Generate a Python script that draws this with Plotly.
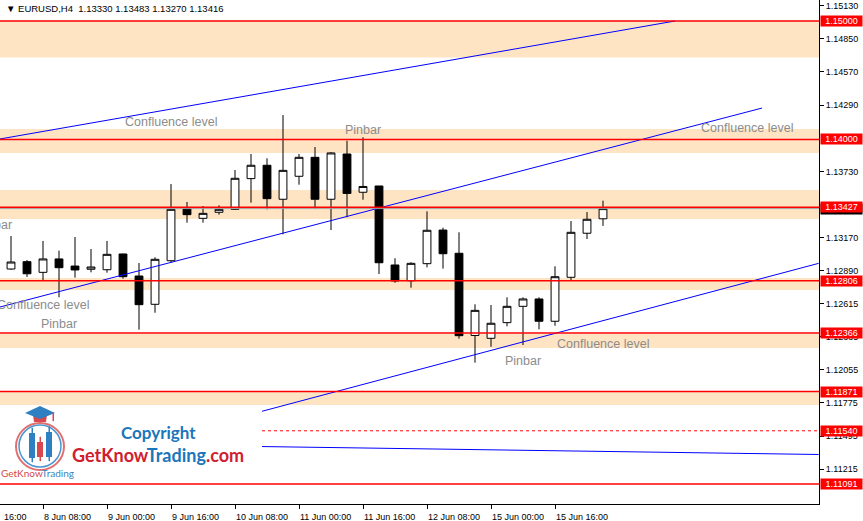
import plotly.graph_objects as go

# EURUSD H4 candles (index 0 = 8 Jun 00:00, 6 bars a day)
bar_idx = list(range(38))
opens = [1.12906, 1.12968, 1.12878, 1.12991, 1.12931, 1.12904, 1.12900, 1.13033,
         1.12847, 1.12608, 1.12976, 1.13415, 1.13334, 1.13385, 1.13410, 1.13669,
         1.13782, 1.13495, 1.13689, 1.13849, 1.13495, 1.13877, 1.13554, 1.13607,
         1.12940, 1.12807, 1.12951, 1.13235, 1.13039, 1.12345, 1.12321, 1.12453,
         1.12591, 1.12653, 1.12465, 1.12836, 1.13208, 1.13330]
highs = [1.13185, 1.12982, 1.13143, 1.13061, 1.13176, 1.13075, 1.13143, 1.13035,
         1.12957, 1.13005, 1.13624, 1.13472, 1.13438, 1.13444, 1.13742, 1.13877,
         1.13841, 1.14206, 1.13877, 1.13936, 1.13894, 1.13989, 1.14018, 1.13607,
         1.12997, 1.12963, 1.13393, 1.13255, 1.13216, 1.12608, 1.12602, 1.12667,
         1.12667, 1.12667, 1.12929, 1.13311, 1.13387, 1.13483]
lows = [1.12898, 1.12839, 1.12807, 1.12667, 1.12833, 1.12878, 1.12875, 1.12824,
        1.12394, 1.12537, 1.12959, 1.13297, 1.13297, 1.13365, 1.13404, 1.13466,
        1.13410, 1.13199, 1.13618, 1.13415, 1.13235, 1.13343, 1.13491, 1.12864,
        1.12790, 1.12748, 1.12920, 1.12909, 1.12318, 1.12115, 1.12250, 1.12422,
        1.12264, 1.12397, 1.12427, 1.12807, 1.13159, 1.13270]
closes = [1.12965, 1.12866, 1.12991, 1.12917, 1.12898, 1.12923, 1.13030, 1.12841,
          1.12605, 1.12988, 1.13410, 1.13365, 1.13376, 1.13410, 1.13672, 1.13782,
          1.13500, 1.13739, 1.13849, 1.13495, 1.13886, 1.13544, 1.13603, 1.12959,
          1.12805, 1.12954, 1.13233, 1.13035, 1.12343, 1.12557, 1.12448, 1.12591,
          1.12653, 1.12465, 1.12841, 1.13216, 1.13326, 1.13416]

tick_pos = [2, 6, 10, 14, 18, 22, 26, 30, 34]
tick_text = ["8 Jun 08:00", "9 Jun 00:00", "9 Jun 16:00", "10 Jun 08:00",
             "11 Jun 00:00", "11 Jun 16:00", "12 Jun 08:00", "15 Jun 00:00",
             "15 Jun 16:00"]
# 1.14010 and 1.13450 sit fully under the red level labels, so left out
price_ticks = [1.15130, 1.14850, 1.14570, 1.14290, 1.13730,
               1.13170, 1.12890, 1.12615, 1.12335, 1.12055, 1.11775, 1.11495,
               1.11215]

levels = [1.15000, 1.14000, 1.13427, 1.12806, 1.12366, 1.11871, 1.11091]
dashed_level = 1.11540
zone_lo = [1.14692, 1.13886, 1.13328, 1.12729, 1.12239, 1.11758]
zone_hi = [1.15000, 1.14088, 1.13573, 1.12830, 1.12357, 1.11868]
bid = 1.13416

# trend lines (bar index, price)
trend_x0 = [-0.69, -0.69, 15.69, 15.69]
trend_x1 = [41.5, 46.94, 50.48, 50.48]
trend_y0 = [1.14004, 1.12585, 1.11705, 1.11407]
trend_y1 = [1.15000, 1.14265, 1.12954, 1.11340]

note_text = ["Confluence level", "Pinbar", "Confluence level", "Pinbar",
             "Confluence level", "Pinbar", "Confluence level", "Pinbar"]
note_x = [10.0, 22.0, 46.0, 0.19, 1.97, 3.03, 37.03, 32.03]
note_y = [1.14147, 1.14080, 1.14097, 1.13278, 1.12602, 1.12442, 1.12273, 1.12129]
note_anchor = ["center", "center", "center", "right", "center", "center", "center", "center"]

X_RANGE = [-0.6875, 50.5]
Y_RANGE = [1.10922, 1.151773]
PW, PH = 819, 504  # plot area in px

fig = go.Figure()

fig.add_trace(go.Candlestick(
    x=bar_idx, open=opens, high=highs, low=lows, close=closes,
    increasing=dict(line=dict(color="black", width=1), fillcolor="white"),
    decreasing=dict(line=dict(color="black", width=1), fillcolor="black"),
    hoverinfo="skip", showlegend=False))

for a, b, c, d in zip(trend_x0, trend_x1, trend_y0, trend_y1):
    fig.add_trace(go.Scatter(x=[a, b], y=[c, d], mode="lines",
                             line=dict(color="#0000ff", width=1),
                             hoverinfo="skip", showlegend=False))

shapes = []
for lo, hi in zip(zone_lo, zone_hi):
    shapes.append(dict(type="rect", xref="paper", yref="y", x0=0, x1=1, y0=lo, y1=hi,
                       fillcolor="#ffe4c4", line=dict(width=0), layer="below"))
shapes.append(dict(type="line", xref="paper", yref="y", x0=0, x1=1, y0=bid, y1=bid,
                   line=dict(color="#a0a0a0", width=1), layer="above"))
for v in levels:
    shapes.append(dict(type="line", xref="paper", yref="y", x0=0, x1=1, y0=v, y1=v,
                       line=dict(color="#ff0000", width=1.5), layer="above"))
shapes.append(dict(type="line", xref="x", yref="y", x0=15.69, x1=X_RANGE[1],
                   y0=dashed_level, y1=dashed_level,
                   line=dict(color="#ff0000", width=1, dash="3px,3px"), layer="above"))


# logo (drawn in picture pixels, converted to paper)
def px(x, y):
    return x / PW, 1 - y / PH


def box(x0, y0, x1, y1, **kw):
    a, b = px(x0, y0)
    c, d = px(x1, y1)
    return dict(xref="paper", yref="paper", x0=a, y0=d, x1=c, y1=b, **kw)


def path(pts, **kw):
    s = "M " + " L ".join("%.5f,%.5f" % px(x, y) for x, y in pts) + " Z"
    return dict(type="path", xref="paper", yref="paper", path=s, **kw)


logo_blue = "#2f80c2"
logo_red = "#d9484c"
shapes.append(box(16, 423, 64, 470, type="circle", line=dict(color="#e07070", width=2)))
shapes.append(box(19, 425, 61, 467, type="circle", line=dict(color="#4a95cf", width=1.5)))
for cx, top, bot, wt, wb, col in [(32, 433, 458, 428, 462, logo_blue),
                                  (40, 442, 457, 437, 461, logo_red),
                                  (49, 432, 457, 427, 461, logo_blue)]:
    shapes.append(box(cx, wt, cx + 0.5, wb, type="rect", fillcolor=col, line=dict(color=col, width=1)))
    shapes.append(box(cx - 3, top, cx + 3, bot, type="rect", fillcolor=col, line=dict(width=0)))
shapes.append(path([(33, 415), (47, 415), (46, 422), (34, 422)], fillcolor=logo_red, line=dict(width=0)))
shapes.append(path([(25, 413), (40, 406), (55, 413), (40, 419)], fillcolor=logo_blue, line=dict(width=0)))
shapes.append(box(53, 413, 53.5, 421, type="rect", fillcolor=logo_red, line=dict(color=logo_red, width=1)))

ann = []
hdr = "\u25bc EURUSD,H4\u00a0\u00a0%.5f %.5f %.5f %.5f" % (opens[-1], highs[-1], lows[-1], closes[-1])
ann.append(dict(xref="paper", yref="paper", x=0, y=1, xanchor="left", yanchor="top",
                xshift=4, yshift=-1, text=hdr, showarrow=False,
                font=dict(size=9.5, color="black")))
ann.append(dict(xref="paper", yref="paper", x=0, y=0, xanchor="left", yanchor="top",
                xshift=2, yshift=-6, text="16:00", showarrow=False,
                font=dict(size=9, color="black")))
for t, x, y, anc in zip(note_text, note_x, note_y, note_anchor):
    ann.append(dict(x=x, y=y, xref="x", yref="y", text=t, xanchor=anc, showarrow=False,
                    font=dict(size=12.5, color="#8c8c8c")))

ann.append(dict(xref="paper", yref="y", x=1, y=bid, xanchor="left", xshift=1,
                text="%.5f" % bid, showarrow=False, bgcolor="black", width=41, height=10,
                borderpad=0, font=dict(size=9, color="white")))
for v in levels + [dashed_level]:
    ann.append(dict(xref="paper", yref="y", x=1, y=v, xanchor="left", xshift=1,
                    text="%.5f" % v, showarrow=False, bgcolor="#ff0000", width=41, height=10,
                    borderpad=0, font=dict(size=9, color="white")))

cx, cy = px(158, 432)
ann.append(dict(xref="paper", yref="paper", x=cx, y=cy, xanchor="center", yanchor="middle",
                text="<b>Copyright</b>",
                showarrow=False, font=dict(family="Lato", size=17, color="#1b75bb")))
cx, cy = px(158, 455)
ann.append(dict(xref="paper", yref="paper", x=cx, y=cy, xanchor="center", yanchor="middle",
                text="<b>GetKnow<span style='color:#1b75bb'>Trading</span>.com</b>",
                showarrow=False, font=dict(family="Lato", size=18, color="#d0202f")))
cx, cy = px(37, 473)
ann.append(dict(xref="paper", yref="paper", x=cx, y=cy, xanchor="center", yanchor="middle",
                text="GetKnow<span style='color:#3a85c0'>Trading</span>",
                showarrow=False, font=dict(family="Lato", size=10, color="#d04848")))

fig.update_layout(
    width=863, height=521,
    margin=dict(l=0, r=863 - PW, t=0, b=521 - PH),
    paper_bgcolor="white", plot_bgcolor="white",
    font=dict(family="Liberation Sans", color="black"),
    showlegend=False,
    shapes=shapes, annotations=ann,
    xaxis=dict(range=X_RANGE, tickvals=tick_pos, ticktext=tick_text,
               ticks="outside", ticklen=4, tickcolor="black",
               ticklabelposition="outside right", ticklabelstandoff=4,
               showline=True, linecolor="black", linewidth=1,
               showgrid=False, zeroline=False, tickfont=dict(size=9),
               rangeslider=dict(visible=False), fixedrange=True),
    yaxis=dict(range=Y_RANGE, side="right", tickvals=price_ticks, tickformat=".5f",
               ticks="outside", ticklen=4, tickcolor="black",
               showline=True, linecolor="black", linewidth=1,
               showgrid=False, zeroline=False, tickfont=dict(size=9), fixedrange=True),
)

# the page's default 8px body margin would push the chart off the window
fig.write_html("out.html", config={"displayModeBar": False},
               post_script="document.body.style.margin='0';")
